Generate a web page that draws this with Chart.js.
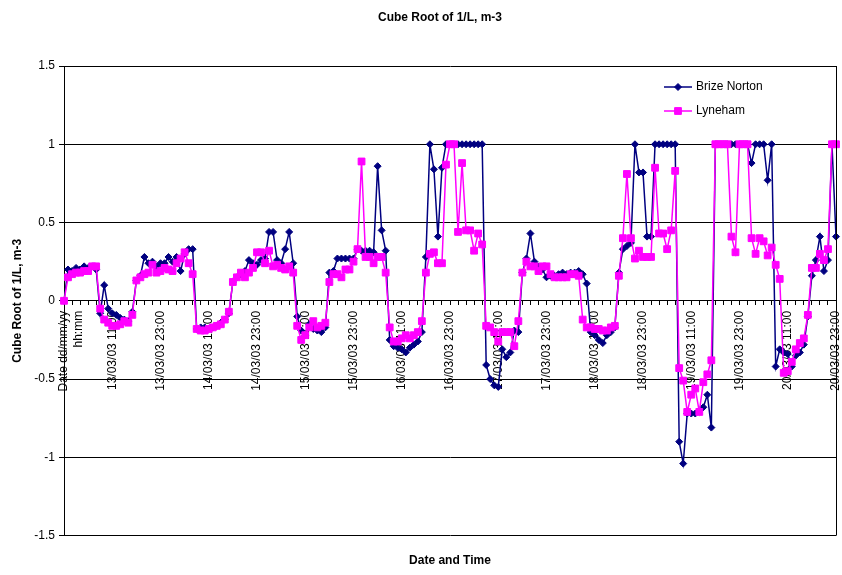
<!DOCTYPE html>
<html>
<head>
<meta charset="utf-8">
<script src="https://cdn.jsdelivr.net/npm/chart.js@4.4.0/dist/chart.umd.min.js"></script>
<style>
  html, body { margin: 0; padding: 0; background: #fff; }
</style>
</head>
<body>
<canvas id="chart" width="842" height="575"></canvas>
<script>
const FONT = "'Liberation Sans', Arial, sans-serif";

// hourly readings, 13/03/03 00:00 .. 20/03/03 23:00, after a header row
const headerLabel = ['Date dd/mm/yy', 'hh:mm'];
const firstDay = 13;
const hoursCount = 192;
const labelEvery = 12;

const categories = [headerLabel];
for (let h = 0; h < hoursCount; h++) {
  const day = firstDay + Math.floor(h / 24);
  const hh = String(h % 24).padStart(2, '0');
  categories.push(day + '/03/03 ' + hh + ':00');
}

const brizeNorton = [0,
  0.20, 0.19, 0.21, 0.20, 0.22, 0.21, 0.22, 0.20, -0.08, 0.10, -0.05, -0.08,
  -0.09, -0.11, -0.12, -0.13, -0.07, 0.13, 0.16, 0.28, 0.24, 0.25, 0.22, 0.24,
  0.24, 0.28, 0.25, 0.28, 0.19, 0.30, 0.33, 0.33, -0.18, -0.17, -0.17, -0.18,
  -0.17, -0.16, -0.14, -0.12, -0.08, 0.12, 0.15, 0.17, 0.19, 0.26, 0.24, 0.23,
  0.26, 0.27, 0.44, 0.44, 0.26, 0.24, 0.33, 0.44, 0.24, -0.10, -0.19, -0.22,
  -0.15, -0.18, -0.19, -0.20, -0.17, 0.18, 0.19, 0.27, 0.27, 0.27, 0.27, 0.27,
  0.33, 0.32, 0.32, 0.32, 0.31, 0.86, 0.45, 0.32, -0.25, -0.29, -0.30, -0.31,
  -0.33, -0.30, -0.28, -0.26, -0.20, 0.28, 1.00, 0.84, 0.41, 0.85, 1.00, 1.00,
  1.00, 1.00, 1.00, 1.00, 1.00, 1.00, 1.00, 1.00, -0.41, -0.50, -0.54, -0.55,
  -0.31, -0.36, -0.33, -0.19, -0.20, 0.18, 0.27, 0.43, 0.25, 0.22, 0.20, 0.15,
  0.16, 0.16, 0.17, 0.18, 0.17, 0.18, 0.18, 0.19, 0.17, 0.11, -0.20, -0.22,
  -0.25, -0.27, -0.22, -0.20, -0.17, 0.18, 0.33, 0.35, 0.37, 1.00, 0.82, 0.82,
  0.41, 0.41, 1.00, 1.00, 1.00, 1.00, 1.00, 1.00, -0.90, -1.04, -0.72, -0.72,
  -0.72, -0.70, -0.68, -0.60, -0.81, 1.00, 1.00, 1.00, 1.00, 1.00, 1.00, 1.00,
  1.00, 1.00, 0.88, 1.00, 1.00, 1.00, 0.77, 1.00, -0.42, -0.31, -0.33, -0.34,
  -0.42, -0.35, -0.33, -0.28, -0.10, 0.16, 0.26, 0.41, 0.19, 0.26, 1.00, 0.41
];

const lyneham = [0,
  0.15, 0.17, 0.18, 0.18, 0.19, 0.19, 0.22, 0.22, -0.05, -0.12, -0.14, -0.16,
  -0.16, -0.15, -0.13, -0.14, -0.09, 0.13, 0.15, 0.17, 0.18, 0.23, 0.18, 0.19,
  0.21, 0.20, 0.19, 0.24, 0.27, 0.31, 0.24, 0.17, -0.18, -0.19, -0.19, -0.18,
  -0.17, -0.16, -0.15, -0.12, -0.07, 0.12, 0.15, 0.18, 0.15, 0.18, 0.21, 0.31,
  0.31, 0.24, 0.32, 0.22, 0.23, 0.21, 0.20, 0.22, 0.18, -0.16, -0.25, -0.22,
  -0.17, -0.13, -0.17, -0.16, -0.14, 0.12, 0.17, 0.17, 0.15, 0.20, 0.20, 0.25,
  0.33, 0.89, 0.28, 0.28, 0.24, 0.28, 0.28, 0.18, -0.17, -0.26, -0.26, -0.24,
  -0.22, -0.24, -0.22, -0.20, -0.13, 0.18, 0.30, 0.31, 0.24, 0.24, 0.87, 1.00,
  1.00, 0.44, 0.88, 0.45, 0.45, 0.32, 0.43, 0.36, -0.16, -0.17, -0.20, -0.26,
  -0.20, -0.20, -0.20, -0.29, -0.13, 0.18, 0.25, 0.22, 0.22, 0.19, 0.22, 0.22,
  0.17, 0.15, 0.15, 0.15, 0.15, 0.17, 0.17, 0.16, -0.12, -0.17, -0.17, -0.18,
  -0.18, -0.19, -0.19, -0.17, -0.16, 0.16, 0.40, 0.81, 0.40, 0.27, 0.32, 0.28,
  0.28, 0.28, 0.85, 0.43, 0.43, 0.33, 0.45, 0.83, -0.43, -0.51, -0.71, -0.60,
  -0.56, -0.71, -0.52, -0.47, -0.38, 1.00, 1.00, 1.00, 1.00, 0.41, 0.31, 1.00,
  1.00, 1.00, 0.40, 0.30, 0.40, 0.38, 0.29, 0.34, 0.23, 0.14, -0.46, -0.45,
  -0.39, -0.31, -0.27, -0.24, -0.09, 0.21, 0.21, 0.30, 0.26, 0.33, 1.00, 1.00
];

const seriesNames = ['Brize Norton', 'Lyneham'];
const yMin = -1.5, yMax = 1.5, yStep = 0.5;

const chartTitle = 'Cube Root of 1/L, m-3';
const yTitle = 'Cube Root of 1/L, m-3';
const xTitle = 'Date and Time';

// title, in-plot legend and right frame line
const decor = {
  id: 'decor',
  afterDraw(chart) {
    const {ctx, chartArea: a} = chart;
    ctx.save();
    ctx.strokeStyle = '#000';
    ctx.lineWidth = 1;
    const rx = Math.round(a.right) + 0.5;
    ctx.beginPath();
    ctx.moveTo(rx, a.top);
    ctx.lineTo(rx, a.bottom);
    ctx.stroke();

    ctx.fillStyle = '#000';
    ctx.font = 'bold 12px ' + FONT;
    ctx.textAlign = 'center';
    ctx.textBaseline = 'middle';
    ctx.fillText(chartTitle, 440, 18);

    ctx.font = '12px ' + FONT;
    ctx.textAlign = 'left';
    chart.data.datasets.forEach((ds, k) => {
      const y = 87 + k * 24;
      ctx.strokeStyle = ds.borderColor;
      ctx.lineWidth = ds.borderWidth;
      ctx.beginPath();
      ctx.moveTo(664, y);
      ctx.lineTo(692, y);
      ctx.stroke();
      ctx.fillStyle = ds.backgroundColor;
      ctx.lineWidth = 1;
      Chart.helpers.drawPoint(ctx, {pointStyle: ds.pointStyle, radius: ds.pointRadius, borderWidth: 1, rotation: 0}, 678, y);
      ctx.fillStyle = '#000';
      ctx.fillText(ds.label, 696, y);
    });
    ctx.restore();
  }
};

new Chart(document.getElementById('chart'), {
  type: 'line',
  data: {
    labels: categories,
    datasets: [{
      label: seriesNames[0],
      data: brizeNorton,
      borderColor: '#000080',
      backgroundColor: '#000080',
      borderWidth: 1.5,
      pointStyle: 'rectRot',
      pointRadius: 3.5,
      pointBorderWidth: 1,
      tension: 0,
      order: 1
    }, {
      label: seriesNames[1],
      data: lyneham,
      borderColor: '#FF00FF',
      backgroundColor: '#FF00FF',
      borderWidth: 1.5,
      pointStyle: 'rect',
      pointRadius: 4.8,
      pointBorderWidth: 1,
      tension: 0,
      order: 0
    }]
  },
  options: {
    responsive: false,
    animation: false,
    events: [],
    layout: { padding: { top: 66, right: 6, bottom: 0, left: 0 } },
    plugins: {
      legend: { display: false },
      tooltip: { enabled: false },
      title: { display: false },
      subtitle: {
        display: true,
        text: xTitle,
        position: 'bottom',
        fullSize: false,
        color: '#000',
        font: { family: FONT, size: 12, weight: 'bold' },
        padding: { top: 18, bottom: 7 }
      }
    },
    scales: {
      x: {
        type: 'category',
        position: { y: 0 },
        offset: false,
        afterFit(s) { s.paddingLeft = 0; s.paddingRight = 0; },
        grid: {
          drawOnChartArea: false,
          drawTicks: true,
          tickLength: 4,
          color: c => (c.index % 2 === 0 ? '#000' : 'rgba(0,0,0,0)')
        },
        border: { display: true, color: '#000', width: 1 },
        ticks: {
          autoSkip: false,
          maxRotation: 90,
          minRotation: 90,
          padding: 6,
          color: '#000',
          font: { family: FONT, size: 12 },
          callback(v, i) { return i % labelEvery === 0 ? this.getLabelForValue(v) : ''; }
        }
      },
      y: {
        min: yMin,
        max: yMax,
        afterFit(s) { s.width = 64; },
        ticks: {
          stepSize: yStep,
          padding: 4,
          color: '#000',
          font: { family: FONT, size: 12 },
          callback: v => String(Number(v.toFixed(1)))
        },
        grid: { color: '#000', tickLength: 5 },
        border: { color: '#000' },
        title: {
          display: true,
          text: yTitle,
          color: '#000',
          font: { family: FONT, size: 12, weight: 'bold' },
          padding: { top: 10, bottom: 0 }
        }
      }
    }
  },
  plugins: [decor]
});
</script>
</body>
</html>
